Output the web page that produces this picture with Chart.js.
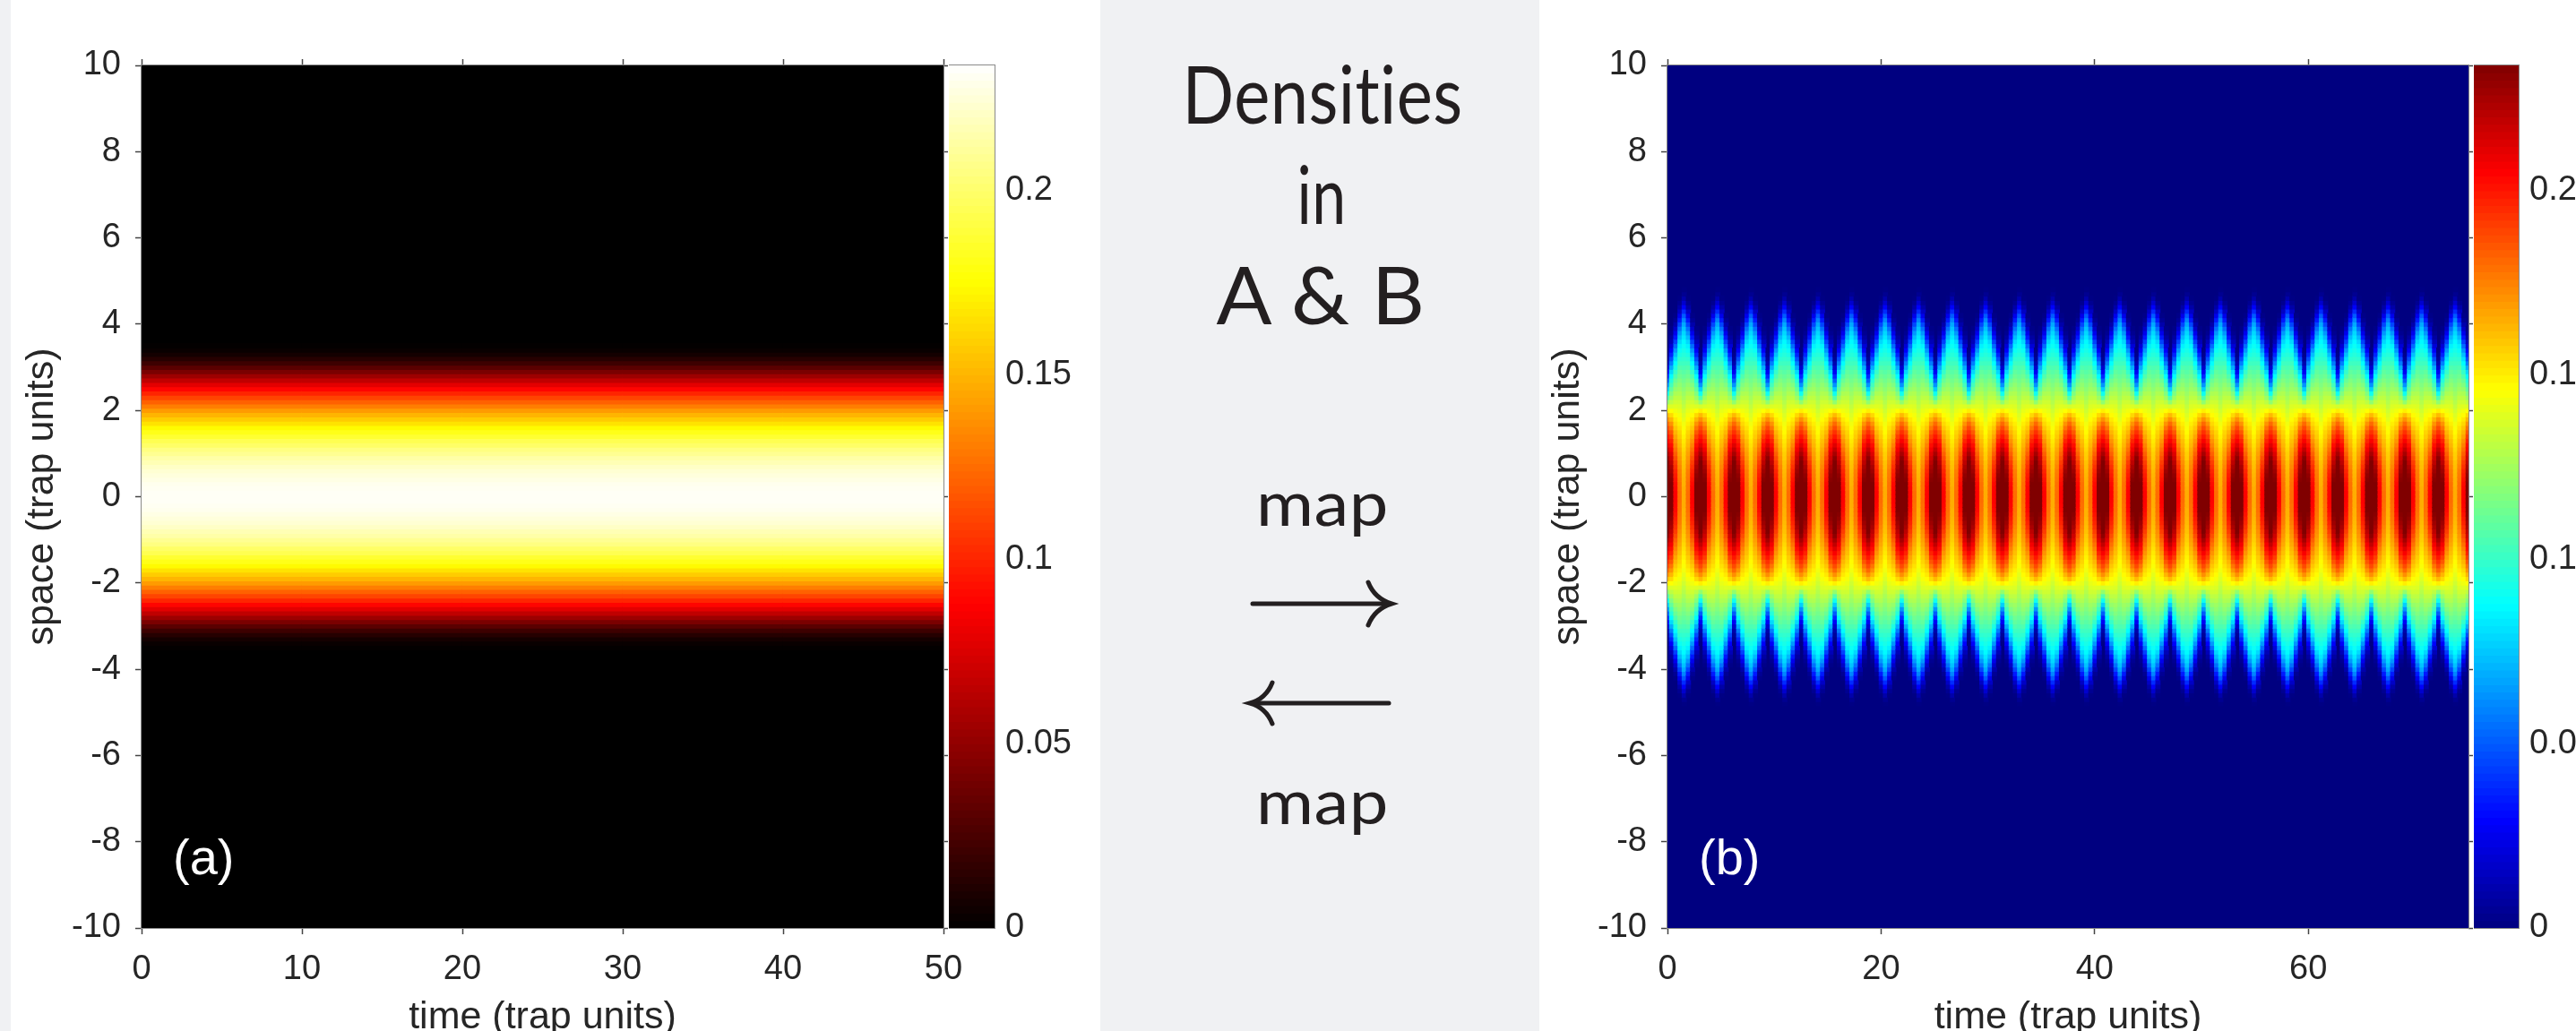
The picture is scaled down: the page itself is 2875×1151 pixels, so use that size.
<!DOCTYPE html>
<html>
<head>
<meta charset="utf-8">
<title>Densities in A & B</title>
<script src="https://cdn.jsdelivr.net/npm/chart.js@4.4.1/dist/chart.umd.min.js"></script>
<style>
  html, body { margin: 0; padding: 0; background: #fff; overflow: hidden; }
  body { width: 2875px; height: 1151px; position: relative; }
  .strip { position: absolute; top: 0; height: 1151px; background: #f0f1f3; }
  canvas { position: absolute; }
  svg text { font-variant-ligatures: none; font-feature-settings: "liga" 0, "clig" 0, "dlig" 0; letter-spacing: 0.5px; }
</style>
</head>
<body>
<div class="strip" style="left:0;width:12px"></div>
<div class="strip" style="left:1228px;width:490px"></div>

<canvas id="heatA" width="1100" height="1166" style="left:0;top:0"></canvas>
<canvas id="barA" width="169" height="1043" style="left:1059px;top:33px"></canvas>
<canvas id="heatB" width="1040" height="1166" style="left:1720px;top:0"></canvas>
<canvas id="barB" width="200" height="1043" style="left:2761px;top:33px"></canvas>

<svg width="490" height="1151" viewBox="1228 0 490 1151" style="position:absolute;left:1228px;top:0">
  <g font-family="Lato, 'Open Sans', sans-serif" fill="#231f20" text-anchor="middle">
    <text x="1476" y="138" font-size="90" textLength="313" lengthAdjust="spacingAndGlyphs">Densit&#8204;ies</text>
    <text x="1475" y="250" font-size="90" textLength="55" lengthAdjust="spacingAndGlyphs">in</text>
    <text x="1474" y="362" font-size="90" textLength="233" lengthAdjust="spacingAndGlyphs">A &amp; B</text>
    <text x="1476" y="587" font-size="70" textLength="148" lengthAdjust="spacingAndGlyphs">map</text>
    <text x="1476" y="920" font-size="70" textLength="148" lengthAdjust="spacingAndGlyphs">map</text>
  </g>
  <g stroke="#231f20" stroke-width="5" fill="none" stroke-linecap="round">
    <path d="M1398 674 H1550"/>
    <path d="M1527 650 Q1534 668 1553 674 Q1534 680 1527 698"/>
    <path d="M1397 785 H1550"/>
    <path d="M1420 762 Q1413 780 1395 785 Q1413 790 1420 808"/>
  </g>
</svg>

<script>
// ---- data ----
const spaceStep = 0.1;            // profiles below are sampled at |space| = 0, 0.1, 0.2 ...
const cMax = 0.234;               // top of both colour bars

const spaceTicks = [-10, -8, -6, -4, -2, 0, 2, 4, 6, 8, 10];
const timeTicksA = [0, 10, 20, 30, 40, 50];
const timeTicksB = [0, 20, 40, 60];
const barTicks = [0, 0.05, 0.1, 0.15, 0.2];
const panelLabels = ['(a)', '(b)'];

// (a) density vs |space|, the same at every time
const densityA = [
  0.232, 0.232, 0.231, 0.230, 0.228, 0.226, 0.224, 0.221, 0.217, 0.214,
  0.209, 0.205, 0.199, 0.194, 0.187, 0.181, 0.174, 0.166, 0.158, 0.150,
  0.141, 0.131, 0.121, 0.111, 0.100, 0.089, 0.078, 0.066, 0.054, 0.042,
  0.031, 0.021, 0.013, 0.007, 0.003, 0.001, 0
];

// (b) breathing: one period, profiles vs |space| at 0, 1/8, 2/8, 3/8, 4/8 of it
const periodB = 3.14;
const profileB0 = [
  0.262, 0.262, 0.261, 0.259, 0.256, 0.252, 0.248, 0.243, 0.237, 0.231, 0.225,
  0.219, 0.212, 0.206, 0.200, 0.194, 0.188, 0.181, 0.172, 0.162, 0.150,
  0.136, 0.121, 0.106, 0.091, 0.077, 0.063, 0.050, 0.038, 0.027, 0.018,
  0.011, 0.006, 0.003, 0.001, 0, 0, 0, 0, 0, 0,
  0, 0, 0, 0, 0, 0, 0, 0, 0, 0
];
const profileB1 = [
  0.236, 0.236, 0.235, 0.234, 0.232, 0.230, 0.227, 0.224, 0.220, 0.216, 0.212,
  0.207, 0.202, 0.197, 0.191, 0.185, 0.178, 0.171, 0.163, 0.155, 0.146,
  0.138, 0.131, 0.124, 0.117, 0.110, 0.103, 0.096, 0.088, 0.079, 0.069,
  0.058, 0.047, 0.037, 0.028, 0.020, 0.013, 0.008, 0.004, 0.002, 0,
  0, 0, 0, 0, 0, 0, 0, 0, 0, 0
];
const profileB2 = [
  0.205, 0.205, 0.204, 0.203, 0.201, 0.199, 0.197, 0.194, 0.191, 0.187, 0.183,
  0.179, 0.175, 0.171, 0.167, 0.163, 0.159, 0.155, 0.151, 0.147, 0.143,
  0.139, 0.135, 0.131, 0.127, 0.122, 0.117, 0.112, 0.106, 0.100, 0.094,
  0.088, 0.081, 0.073, 0.064, 0.054, 0.044, 0.034, 0.025, 0.017, 0.010,
  0.005, 0.002, 0, 0, 0, 0, 0, 0, 0, 0
];
const profileB3 = [
  0.180, 0.180, 0.179, 0.179, 0.178, 0.177, 0.176, 0.174, 0.172, 0.170, 0.168,
  0.166, 0.163, 0.161, 0.158, 0.156, 0.153, 0.150, 0.147, 0.144, 0.141,
  0.138, 0.135, 0.131, 0.128, 0.124, 0.121, 0.117, 0.113, 0.110, 0.106,
  0.102, 0.098, 0.094, 0.090, 0.085, 0.079, 0.072, 0.064, 0.055, 0.045,
  0.035, 0.025, 0.016, 0.009, 0.004, 0.001, 0, 0, 0, 0
];
const profileB4 = [
  0.165, 0.165, 0.165, 0.164, 0.164, 0.163, 0.162, 0.161, 0.160, 0.158, 0.157,
  0.155, 0.153, 0.151, 0.149, 0.147, 0.145, 0.143, 0.140, 0.138, 0.135,
  0.132, 0.129, 0.126, 0.123, 0.120, 0.117, 0.114, 0.111, 0.108, 0.105,
  0.102, 0.099, 0.096, 0.093, 0.090, 0.087, 0.083, 0.079, 0.074, 0.068,
  0.060, 0.050, 0.039, 0.028, 0.018, 0.010, 0.004, 0.001, 0, 0
];
const profilesB = [profileB0, profileB1, profileB2, profileB3, profileB4];

// ---- colour maps (matlab hot / jet) ----
const FONT = "'Liberation Sans', Arial, Helvetica, sans-serif";
const INK = '#262626';

function clamp01(v) { return Math.max(0, Math.min(1, v)); }
function rgb(r, g, b) { return `rgb(${Math.round(r * 255)},${Math.round(g * 255)},${Math.round(b * 255)})`; }
function hot(f) {
  f = clamp01(f);
  return rgb(clamp01(f / 0.375), clamp01((f - 0.375) / 0.375), clamp01((f - 0.75) / 0.25));
}
function jet(f) {
  f = clamp01(f);
  return rgb(
    clamp01(Math.min(4 * f - 1.5, -4 * f + 4.5)),
    clamp01(Math.min(4 * f - 0.5, -4 * f + 3.5)),
    clamp01(Math.min(4 * f + 0.5, -4 * f + 2.5))
  );
}

// mirror a |space| profile to both sides of 0
function mirrored(profile) {
  const rows = [];
  for (let k = -(profile.length - 1); k <= profile.length - 1; k++) {
    rows.push({ s: k * spaceStep, v: profile[Math.abs(k)] });
  }
  return rows;
}

function heatCells(columns, profileAt, cmap) {
  const data = [], colors = [];
  columns.forEach((t, j) => {
    mirrored(profileAt(j)).forEach(r => {
      if (r.v <= 0) return;              // zero = chart background colour
      data.push({ x: t, y: [r.s - spaceStep / 2, r.s + spaceStep / 2] });
      colors.push(cmap(r.v / cMax));
    });
  });
  return { data, colors };
}

// ---- plugins ----
const areaFill = {
  id: 'areaFill',
  beforeDatasetsDraw(chart, args, opts) {
    const { ctx, chartArea: a } = chart;
    ctx.save();
    ctx.fillStyle = opts.color || '#000';
    ctx.fillRect(a.left, a.top, a.right - a.left, a.bottom - a.top);
    ctx.restore();
  }
};
const frame = {
  id: 'frame',
  afterDatasetsDraw(chart) {
    const { ctx, chartArea: a } = chart;
    ctx.save();
    ctx.strokeStyle = '#8a8a8a';
    ctx.lineWidth = 1;
    ctx.strokeRect(Math.round(a.left) - 0.5, Math.round(a.top) - 0.5,
      Math.round(a.right - a.left) + 1, Math.round(a.bottom - a.top) + 1);
    ctx.restore();
  }
};
const panelLabel = {
  id: 'panelLabel',
  afterDatasetsDraw(chart, args, opts) {
    if (!opts.text) return;
    const { ctx, chartArea: a } = chart;
    ctx.save();
    ctx.font = `56px ${FONT}`;
    ctx.fillStyle = '#fff';
    ctx.textBaseline = 'alphabetic';
    ctx.fillText(opts.text, a.left + 35, a.bottom - 60);
    ctx.restore();
  }
};

// one axis of the heat map box; size is the axis band in px
function axis(pos, min, max, ticks, size, o = {}) {
  const horiz = pos === 'top' || pos === 'bottom';
  return {
    type: 'linear', position: pos, min, max, offset: false,
    afterBuildTicks: s => { s.ticks = ticks.map(v => ({ value: v })); },
    afterFit: s => {
      if (horiz) { s.height = size; s.paddingLeft = 0; s.paddingRight = 0; }
      else { s.width = size; s.paddingTop = 0; s.paddingBottom = 0; }
    },
    grid: {
      display: true, drawOnChartArea: false, drawTicks: true, offset: false,
      tickLength: o.tickLength || 7, tickColor: '#444', tickWidth: 1.5
    },
    border: { display: false },
    ticks: {
      display: !!o.labels, color: INK, font: { family: FONT, size: 38 },
      padding: horiz ? 17 : 16, maxRotation: 0, autoSkip: false,
      callback: v => String(v)
    },
    title: o.title
      ? { display: true, text: o.title, color: INK, font: { family: FONT, size: 43 }, padding: o.titlePad }
      : { display: false }
  };
}

function heatChart(id, cells, bg, tMax, tTicks, yLeft, yTitlePad, yRight, padRight, label) {
  return new Chart(document.getElementById(id), {
    type: 'bar',
    data: {
      datasets: [{
        data: cells.data,
        backgroundColor: cells.colors,
        borderWidth: 0,
        inflateAmount: 0.5,
        barPercentage: 1,
        categoryPercentage: 1
      }]
    },
    options: {
      responsive: false,
      animation: false,
      events: [],
      normalized: true,
      layout: { padding: { left: 0, top: 0, bottom: 0, right: padRight } },
      plugins: {
        legend: { display: false },
        tooltip: { enabled: false },
        areaFill: { color: bg },
        panelLabel: { text: label }
      },
      scales: {
        x: axis('bottom', 0, tMax, tTicks, 130, { labels: true, title: 'time (trap units)', titlePad: { top: 0, bottom: 4 } }),
        x2: axis('top', 0, tMax, tTicks, 73),
        y: axis('left', -10, 10, spaceTicks, yLeft, { labels: true, title: 'space (trap units)', titlePad: { top: yTitlePad, bottom: 0 } }),
        y2: axis('right', -10, 10, spaceTicks, yRight, { tickLength: 5 })
      }
    },
    plugins: [areaFill, frame, panelLabel]
  });
}

function colourBar(id, cmap, width) {
  const cbStep = 0.002;
  const levels = [];
  for (let v = 0; v < cMax; v += cbStep) levels.push(v);
  return new Chart(document.getElementById(id), {
    type: 'bar',
    data: {
      labels: ['c'],
      datasets: [{
        data: levels.map(v => ({ x: 'c', y: [v, Math.min(v + cbStep, cMax)] })),
        backgroundColor: levels.map(v => cmap((v + cbStep / 2) / cMax)),
        borderWidth: 0,
        inflateAmount: 0.5,
        barPercentage: 1,
        categoryPercentage: 1
      }]
    },
    options: {
      responsive: false,
      animation: false,
      events: [],
      layout: { padding: { top: 40, bottom: 40, left: 0, right: 0 } },
      plugins: { legend: { display: false }, tooltip: { enabled: false } },
      scales: {
        x: { type: 'category', display: false, offset: true, grid: { offset: true } },
        y: {
          type: 'linear', position: 'right', min: 0, max: cMax,
          afterBuildTicks: s => { s.ticks = barTicks.map(v => ({ value: v })); },
          afterFit: s => { s.width = width; s.paddingTop = 0; s.paddingBottom = 0; },
          grid: { display: false, drawTicks: false },
          border: { display: false },
          ticks: { color: INK, font: { family: FONT, size: 38 }, padding: 12, autoSkip: false, callback: v => String(v) }
        }
      }
    },
    plugins: [frame]
  });
}

// (a): ten 5-unit columns, identical profile
const colsA = [];
for (let t = 2.5; t < 50; t += 5) colsA.push(t);
const cellsA = heatCells(colsA, () => densityA, hot);

// (b): eight columns per breathing period, peak (phase 0) at t = 0
const dtB = periodB / 8;
const colsB = [];
for (let j = 0; j * dtB < 75 + dtB; j++) colsB.push(j * dtB);
const cellsB = heatCells(colsB, j => {
  const p = j % 8;
  return profilesB[p <= 4 ? p : 8 - p];
}, jet);

heatChart('heatA', cellsA, hot(0), 50, timeTicksA, 158, 21, 7, 40, panelLabels[0]);
colourBar('barA', hot, 118);
heatChart('heatB', cellsB, jet(0), 75, timeTicksB, 141, 4, 5, 0, panelLabels[1]);
colourBar('barB', jet, 150);
</script>
</body>
</html>
